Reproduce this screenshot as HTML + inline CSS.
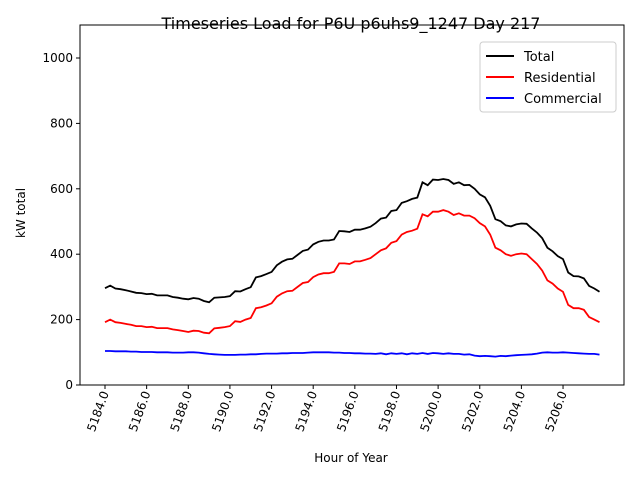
<!DOCTYPE html>
<html><head><meta charset="utf-8"><style>
body{margin:0;background:#fff;font-family:"Liberation Sans","DejaVu Sans",sans-serif;}
text{font-family:"DejaVu Sans","Liberation Sans",sans-serif;}
</style></head><body>
<svg id="chart" width="640" height="480" xmlns="http://www.w3.org/2000/svg">
<rect width="640" height="480" fill="#fff"/>
<text x="351" y="29" font-size="16" text-anchor="middle">Timeseries Load for P6U p6uhs9_1247  Day 217</text>
<text transform="translate(25,213) rotate(-90)" font-size="12" text-anchor="middle">kW total</text>
<text x="351" y="462" font-size="12" text-anchor="middle">Hour of Year</text>
<g id="plot"></g>
<g>
<rect x="480" y="42" width="136" height="70" fill="#fff" stroke="#ccc" rx="3"/>
<line x1="486" y1="56" x2="514" y2="56" stroke="#000" stroke-width="2"/><text x="524" y="61" font-size="13">Total</text>
<line x1="486" y1="77" x2="514" y2="77" stroke="#f00" stroke-width="2"/><text x="524" y="82" font-size="13">Residential</text>
<line x1="486" y1="98" x2="514" y2="98" stroke="#00f" stroke-width="2"/><text x="524" y="103" font-size="13">Commercial</text>
</g>
</svg>
<script>
const startHour = 5184;
const stepHours = 0.25;
const residential = [192,200,192,190,187,184,180,180,177,178,174,174,174,170,168,165,162,166,165,160,158,173,175,177,180,195,193,200,205,235,238,243,250,270,280,287,288,300,312,315,330,338,342,342,346,372,372,370,378,378,383,388,400,412,418,435,440,460,468,472,478,522,516,530,530,535,530,520,525,518,518,510,495,485,460,420,412,400,395,400,402,400,385,370,350,320,310,295,285,245,235,235,230,208,200,192];
const commercial = [104,104,103,103,103,102,102,101,101,101,100,100,100,99,99,99,100,100,99,97,95,94,93,92,92,92,93,93,94,94,95,96,96,96,97,97,98,98,98,99,100,100,100,100,99,99,98,98,97,97,96,96,95,97,94,97,95,97,94,97,95,98,95,98,97,95,97,95,95,93,94,90,88,89,88,87,89,88,90,91,92,93,94,96,99,100,99,99,100,99,98,97,96,95,95,93];
const yTicks = [0,200,400,600,800,1000];
const xTicks = [5184,5186,5188,5190,5192,5194,5196,5198,5200,5202,5204,5206];

const L=80,R=624,T=25,B=385;
const xs = h => 105 + (h-5184)*20.82;
const ys = v => B - v*0.327;
const NS="http://www.w3.org/2000/svg";
const g=document.getElementById('plot');
function mk(tag,attrs){const e=document.createElementNS(NS,tag);for(const k in attrs)e.setAttribute(k,attrs[k]);g.appendChild(e);return e;}
const frame=mk('rect',{x:L,y:T,width:R-L,height:B-T,fill:'none',stroke:'#000','stroke-width':1});


yTicks.forEach(v=>{
  const y=ys(v);
  const t=mk('line',{x1:L-4,x2:L,y1:y,y2:y,stroke:'#000'});
  
  
  const tx=mk('text',{x:L-7,y:y+4,'font-size':12,'text-anchor':'end'});
  tx.textContent=v;
  
  
});
xTicks.forEach(h=>{
  const x=xs(h);
  const t=mk('line',{x1:x,x2:x,y1:B,y2:B+4,stroke:'#000'});
  
  
  const tx=mk('text',{transform:`translate(${x+4},${B+8}) rotate(-70)`,'font-size':12,'text-anchor':'end'});
  tx.textContent=h.toFixed(1);
  
  
});
const total = residential.map((r,i)=>r+commercial[i]);
function line(arr,color,name){
  const pts=arr.map((v,i)=>xs(startHour+i*stepHours).toFixed(1)+','+ys(v).toFixed(1)).join(' ');
  const p=mk('polyline',{points:pts,fill:'none',stroke:color,'stroke-width':1.8});
  
  
}
line(total,'#000','total-line');
line(residential,'#f00','residential-line');
line(commercial,'#00f','commercial-line');
</script>
</body></html>
